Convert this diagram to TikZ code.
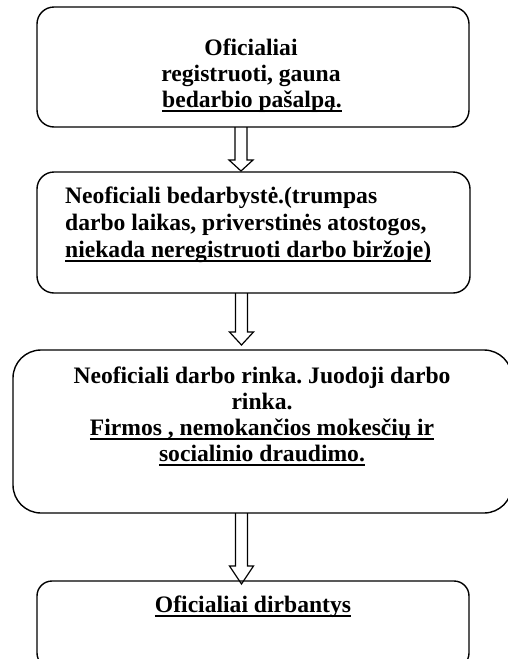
\documentclass[tikz,border=0pt]{standalone}
\usepackage{fontspec}
\setmainfont{Liberation Serif}
\usetikzlibrary{calc}
\frenchspacing
\newcommand\myul[1]{\setbox0\hbox{#1}\rlap{\rule[-4.6pt]{\wd0}{1.5pt}}\box0}
\newcommand\harr[3]{\draw[harrow] let \p1=(#1), \p2=(#2) in
  (\x1-6pt,\y1) -- (\x1-6pt,\y2+#3pt) -- (\x1-12pt,\y2+#3pt) -- (\x1,\y2) --
  (\x1+12pt,\y2+#3pt) -- (\x1+6pt,\y2+#3pt) -- (\x1+6pt,\y1);}
\begin{document}
\begin{tikzpicture}[x=1pt,y=-1pt,
  box/.style={draw, line width=1.4pt, inner sep=0pt, outer sep=0pt},
  harrow/.style={draw, line width=1.2pt, line join=miter},
  lbl/.style={font=\fontsize{23.6}{26}\selectfont\bfseries\frenchspacing, inner sep=0pt}]
\useasboundingbox (0,0) rectangle (508,659);
\clip (0,0) rectangle (508,659);
\fill[white] (0,0) rectangle (508,659);
% boxes
\node[box, rounded corners=17pt, minimum width=432pt, minimum height=120pt, anchor=north west] (b1) at (37,7) {};
\node[box, rounded corners=17pt, minimum width=433pt, minimum height=121pt, anchor=north west] (b2) at (37,172) {};
\node[box, rounded corners=28pt, minimum width=499pt, minimum height=163pt, anchor=north west] (b3) at (13,350) {};
\node[box, rounded corners=15pt, minimum width=432pt, minimum height=87pt, anchor=north west] (b4) at (37,581) {};
% arrows
\coordinate (a1s) at ($(b1.south)+(-12,0)$);
\coordinate (a1e) at ($(b2.north)+(-12,-1)$);
\coordinate (a2s) at ($(b2.south)+(-12,0)$);
\coordinate (a2e) at ($(b3.north)+(-21,-5)$);
\coordinate (a3s) at ($(b3.south)+(-21,0)$);
\coordinate (a3e) at ($(b4.north)+(-12,3)$);
\harr{a1s}{a1e}{11}
\harr{a2s}{a2e}{13}
\harr{a3s}{a3e}{18}
% texts
\node[lbl, anchor=base] (t1a) at (251,55) {Oficialiai};
\node[lbl, anchor=base] (t1b) at (251,81) {registruoti, gauna};
\node[lbl, anchor=base] (t1c) at (252,107) {\myul{bedarbio pašalpą.}};
\node[lbl, anchor=base west] (t2a) at (65,203) {Neoficiali bedarbystė.(trumpas};
\node[lbl, anchor=base west] (t2b) at (65,230) {darbo laikas, priverstinės atostogos,};
\node[lbl, anchor=base west] (t2c) at (65,257) {\myul{niekada neregistruoti darbo biržoje)}};
\node[lbl, anchor=base] (t3a) at (262,383) {Neoficiali darbo rinka. Juodoji darbo};
\node[lbl, anchor=base] (t3b) at (262,409) {rinka.};
\node[lbl, anchor=base] (t3c) at (262,435) {\myul{Firmos , nemokančios mokesčių ir}};
\node[lbl, anchor=base] (t3d) at (262,461) {\myul{socialinio draudimo.}};
\node[lbl, anchor=base] (t4a) at (253,612) {\myul{Oficialiai dirbantys}};
\end{tikzpicture}
\end{document}
